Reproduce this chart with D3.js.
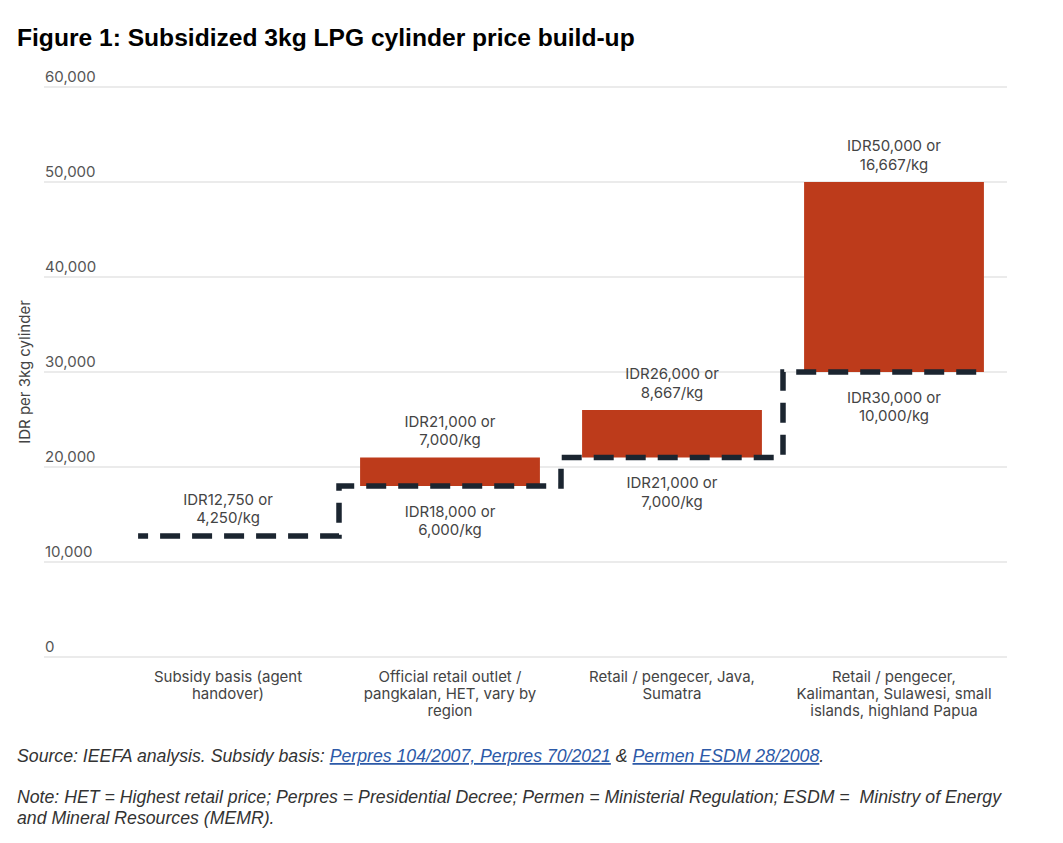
<!DOCTYPE html>
<html>
<head>
<meta charset="utf-8">
<script src="https://cdn.jsdelivr.net/npm/d3@7"></script>
<style>
  html, body { margin: 0; padding: 0; background: #fff; }
  svg { display: block; }
</style>
</head>
<body>
<script>
// ---- Data ----
const categories = [
  "Subsidy basis (agent handover)",
  "Official retail outlet / pangkalan, HET, vary by region",
  "Retail / pengecer, Java, Sumatra",
  "Retail / pengecer, Kalimantan, Sulawesi, small islands, highland Papua"
];
const categoryLines = [
  ["Subsidy basis (agent", "handover)"],
  ["Official retail outlet /", "pangkalan, HET, vary by", "region"],
  ["Retail / pengecer, Java,", "Sumatra"],
  ["Retail / pengecer,", "Kalimantan, Sulawesi, small", "islands, highland Papua"]
];
const baseValues = [12750, 18000, 21000, 30000];
const topValues  = [12750, 21000, 26000, 50000];
const topLabels = [
  ["IDR12,750 or", "4,250/kg"],
  ["IDR21,000 or", "7,000/kg"],
  ["IDR26,000 or", "8,667/kg"],
  ["IDR50,000 or", "16,667/kg"]
];
const bottomLabels = [
  null,
  ["IDR18,000 or", "6,000/kg"],
  ["IDR21,000 or", "7,000/kg"],
  ["IDR30,000 or", "10,000/kg"]
];
const yTicks = [0, 10000, 20000, 30000, 40000, 50000, 60000];

// ---- Setup ----
const W = 1063, H = 843;
const svg = d3.select("body").append("svg").attr("width", W).attr("height", H);
const chartFont = "Inter, 'Noto Sans', sans-serif";
const noteFont = "'Liberation Sans', Arial, sans-serif";

const x = d3.scaleBand().domain(categories).range([117, 1005])
  .paddingInner(0.19).paddingOuter(0.095);
const y = d3.scaleLinear().domain([0, 60000]).range([657, 87]);

// Title
svg.append("text").attr("x", 17).attr("y", 46)
  .attr("font-family", noteFont).attr("font-weight", "bold")
  .attr("font-size", 24.6).attr("fill", "#000")
  .text("Figure 1: Subsidized 3kg LPG cylinder price build-up");

// Gridlines + y tick labels
const yAxis = svg.append("g");
yTicks.forEach(t => {
  yAxis.append("line").attr("x1", 44).attr("x2", 1007)
    .attr("y1", y(t)).attr("y2", y(t))
    .attr("stroke", "#e4e4e4").attr("stroke-width", 1.6);
  yAxis.append("text").attr("x", 45).attr("y", y(t) - 5)
    .attr("font-family", chartFont).attr("font-size", 15).attr("fill", "#555")
    .text(d3.format(",")(t));
});

// Y axis title
svg.append("text")
  .attr("transform", `translate(30,${y(30000)}) rotate(-90)`)
  .attr("text-anchor", "middle")
  .attr("font-family", chartFont).attr("font-size", 15).attr("fill", "#444")
  .text("IDR per 3kg cylinder");

// Bars
const barData = categories.map((c, i) => ({c, base: baseValues[i], top: topValues[i], i}))
  .filter(d => d.top > d.base);
svg.append("g").selectAll("rect").data(barData).join("rect")
  .attr("x", d => x(d.c)).attr("width", x.bandwidth())
  .attr("y", d => y(d.top)).attr("height", d => y(d.base) - y(d.top))
  .attr("fill", "#BD3B1B");

// Dashed step line
const pts = [];
categories.forEach((c, i) => {
  const half = x.step() * x.paddingInner() / 2;
  const x0 = i === 0 ? x(c) : x(c) - half;
  const x1 = i === categories.length - 1 ? x(c) + x.bandwidth() : x(c) + x.bandwidth() + half;
  pts.push([x0, y(baseValues[i])], [x1, y(baseValues[i])]);
});
svg.append("path").attr("d", d3.line()(pts))
  .attr("fill", "none").attr("stroke", "#1b2530").attr("stroke-width", 5.5)
  .attr("stroke-dasharray", "20,12").attr("stroke-dashoffset", 10);

// Value labels
const lbl = svg.append("g").attr("font-family", chartFont).attr("font-size", 15)
  .attr("fill", "#444").attr("text-anchor", "middle");
categories.forEach((c, i) => {
  const cx = x(c) + x.bandwidth() / 2;
  const ty = y(topValues[i]);
  const tl = topLabels[i];
  lbl.append("text").attr("x", cx).attr("y", ty - 31).text(tl[0]);
  lbl.append("text").attr("x", cx).attr("y", ty - 12.5).text(tl[1]);
  const bl = bottomLabels[i];
  if (bl) {
    const by = y(baseValues[i]);
    lbl.append("text").attr("x", cx).attr("y", by + 30.5).text(bl[0]);
    lbl.append("text").attr("x", cx).attr("y", by + 49).text(bl[1]);
  }
});

// X axis category labels
const xl = svg.append("g").attr("font-family", chartFont).attr("font-size", 15)
  .attr("fill", "#444").attr("text-anchor", "middle");
categories.forEach((c, i) => {
  const cx = x(c) + x.bandwidth() / 2;
  categoryLines[i].forEach((ln, j) => {
    xl.append("text").attr("x", cx).attr("y", 682 + j * 17).text(ln);
  });
});

// Source & notes
const src = svg.append("text").attr("x", 17).attr("y", 762)
  .attr("font-family", noteFont).attr("font-style", "italic")
  .attr("font-size", 17.7).attr("fill", "#333");
src.append("tspan").text("Source: IEEFA analysis. Subsidy basis: ");
src.append("tspan").attr("fill", "#2d5aa8").attr("text-decoration", "underline")
  .text("Perpres 104/2007, Perpres 70/2021");
src.append("tspan").text(" & ");
src.append("tspan").attr("fill", "#2d5aa8").attr("text-decoration", "underline")
  .text("Permen ESDM 28/2008");
src.append("tspan").text(".");

const noteLines = [
  "Note: HET = Highest retail price; Perpres = Presidential Decree; Permen = Ministerial Regulation; ESDM =  Ministry of Energy",
  "and Mineral Resources (MEMR)."
];
noteLines.forEach((t, i) => {
  svg.append("text").attr("x", 17).attr("y", 803 + i * 20.5)
    .attr("font-family", noteFont).attr("font-style", "italic")
    .attr("font-size", 17.7).attr("fill", "#333")
    .attr("xml:space", "preserve").style("white-space", "pre")
    .text(t);
});
</script>
</body>
</html>
